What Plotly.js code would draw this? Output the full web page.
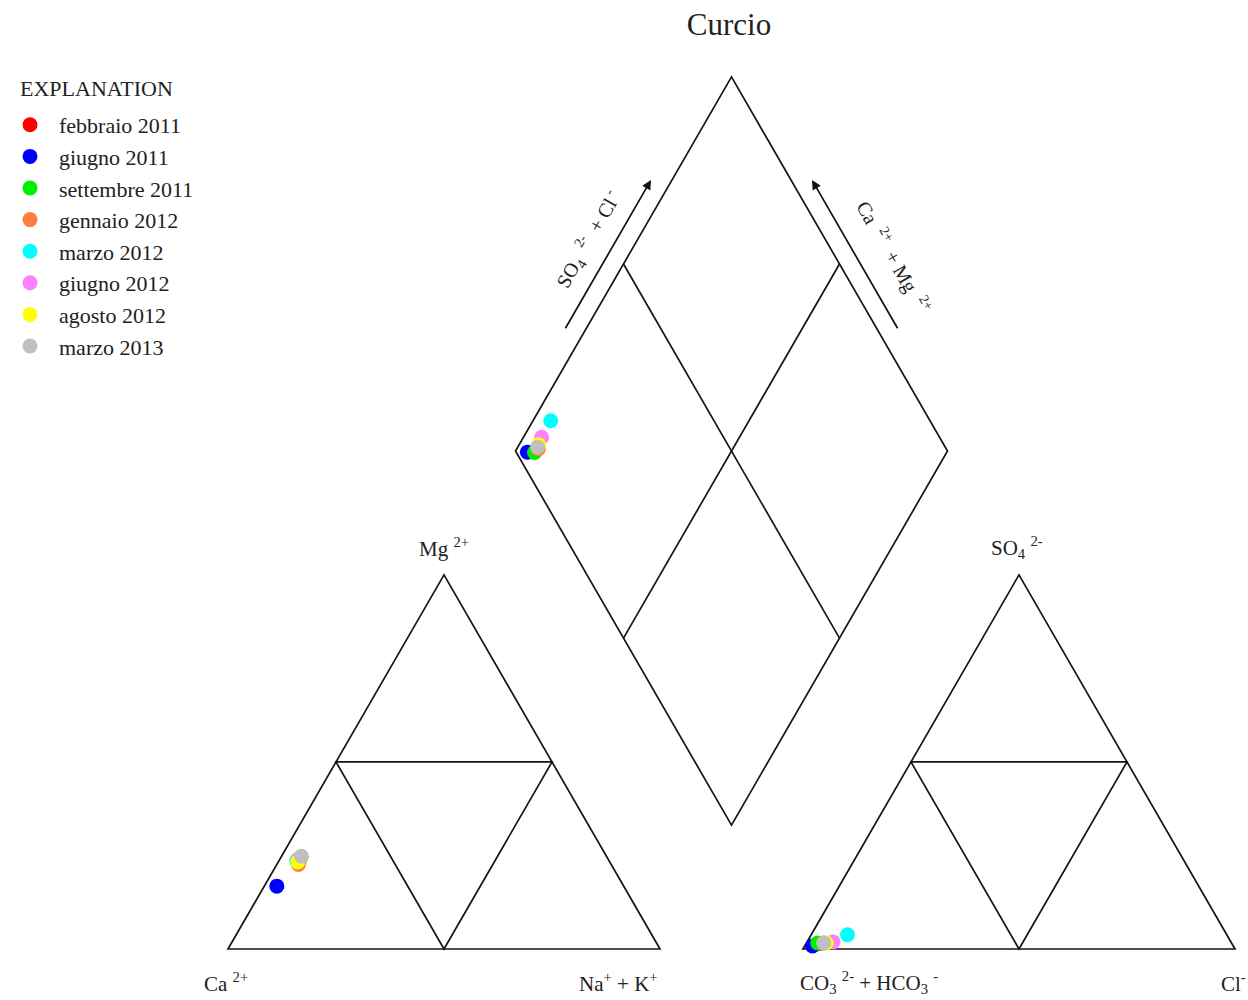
<!DOCTYPE html>
<html>
<head>
<meta charset="utf-8">
<script src="https://cdn.plot.ly/plotly-3.0.1.min.js"></script>
<style>
  html, body { margin: 0; padding: 0; background: #fff; }
  #chart { width: 1248px; height: 1000px; }
</style>
</head>
<body>
<div id="chart"></div>
<script>
// Sampling campaigns at Curcio
const campaigns = ['febbraio 2011', 'giugno 2011', 'settembre 2011', 'gennaio 2012',
                   'marzo 2012', 'giugno 2012', 'agosto 2012', 'marzo 2013'];
const campaignColors = ['#ff0000', '#0000ff', '#00ee00', '#ff7f40',
                        '#00ffff', '#ff80ff', '#ffff00', '#bfbfbf'];

// Cations, % meq/L
const ca  = [71.4, 80.3, 70.9, 72.4, 72.3, 71.8, 72.2, 70.6];
const mg  = [24.0, 16.8, 24.5, 22.6, 23.6, 24.0, 23.3, 24.8];
const naK = [ 4.6,  2.9,  4.6,  5.0,  4.1,  4.2,  4.5,  4.6];

// Anions, % meq/L
const hco3 = [95.5, 97.4, 95.8, 94.4, 87.8, 92.1, 93.8, 94.4];
const so4  = [ 1.5,  0.8,  1.6,  1.6,  3.8,  1.9,  1.6,  1.6];
const cl   = [ 3.0,  1.8,  2.6,  4.0,  8.4,  6.0,  4.6,  4.0];

// ---- Piper geometry (triangle side = 1) ----
const H = Math.sqrt(3) / 2;
const GAP = 0.331;                     // space between the two triangles
const AX0 = 1 + GAP;                   // left corner of the anion triangle
const DB = [1 + GAP / 2, GAP * H];     // bottom corner of the diamond

function cationXY(i) {
  const t = ca[i] + mg[i] + naK[i];
  const m = mg[i] / t, n = naK[i] / t;
  return [n + m / 2, m * H];
}
function anionXY(i) {
  const t = hco3[i] + so4[i] + cl[i];
  const s = so4[i] / t, c = cl[i] / t;
  return [AX0 + c + s / 2, s * H];
}
function diamondXY(i) {
  const p = (ca[i] + mg[i]) / (ca[i] + mg[i] + naK[i]);
  const q = (so4[i] + cl[i]) / (hco3[i] + so4[i] + cl[i]);
  return [DB[0] - p / 2 + q / 2, DB[1] + (p + q) * H];
}

const traces = campaigns.map((name, i) => {
  const pts = [cationXY(i), anionXY(i), diamondXY(i)];
  return {
    type: 'scatter', mode: 'markers', name: name,
    x: pts.map(p => p[0]), y: pts.map(p => p[1]),
    marker: { color: campaignColors[i], size: 15, line: { width: 0 } },
    hoverinfo: 'name'
  };
});

// ---- frame ----
function pathOf(pts, close) {
  return pts.map((p, k) => (k ? 'L' : 'M') + p[0] + ',' + p[1]).join(' ') + (close ? ' Z' : '');
}
const lineStyle = { color: '#151515', width: 1.7 };
function tri(x0) {
  const A = [x0, 0], B = [x0 + 1, 0], C = [x0 + 0.5, H];
  const mAC = [x0 + 0.25, H / 2], mBC = [x0 + 0.75, H / 2], mAB = [x0 + 0.5, 0];
  return [
    { type: 'path', path: pathOf([A, B, C], true), line: lineStyle },
    { type: 'path', path: pathOf([mAC, mBC, mAB], true), line: lineStyle }
  ];
}
const dL = [DB[0] - 0.5, DB[1] + H], dR = [DB[0] + 0.5, DB[1] + H], dT = [DB[0], DB[1] + 2 * H];
const mid = (a, b) => [(a[0] + b[0]) / 2, (a[1] + b[1]) / 2];
const shapes = [
  ...tri(0), ...tri(AX0),
  { type: 'path', path: pathOf([DB, dR, dT, dL], true), line: lineStyle },
  { type: 'path', path: pathOf([mid(DB, dL), mid(dR, dT)], false), line: lineStyle },
  { type: 'path', path: pathOf([mid(DB, dR), mid(dL, dT)], false), line: lineStyle }
].map(s => Object.assign({ xref: 'x', yref: 'y', layer: 'below' }, s));

// ---- axis arrows beside the diamond ----
const OFF = 0.042;
function along(start, dir, norm, t, off) {
  return [start[0] + dir[0] * t + norm[0] * off, start[1] + dir[1] * t + norm[1] * off];
}
const uL = [0.5, H], nL = [-H, 0.5];      // upper-left edge direction / outward normal
const uR = [-0.5, H], nR = [H, 0.5];      // upper-right edge direction / outward normal
const arrowL0 = along(dL, uL, nL, 0.30, OFF), arrowL1 = along(dL, uL, nL, 0.70, OFF);
const arrowR0 = along(dR, uR, nR, 0.30, OFF), arrowR1 = along(dR, uR, nR, 0.70, OFF);
const labelL = along(dL, uL, nL, 0.51, 0.097);
const labelR = along(dR, uR, nR, 0.45, 0.118);

const serif = 'Liberation Serif, Times New Roman, serif';
const ink = '#222222';
function arrow(a0, a1) {
  return {
    xref: 'x', yref: 'y', axref: 'x', ayref: 'y',
    x: a1[0], y: a1[1], ax: a0[0], ay: a0[1],
    text: '', showarrow: true, arrowhead: 2, arrowsize: 1.1, arrowwidth: 1.7, arrowcolor: '#111'
  };
}
function paperText(text, px, py, size, anchor) {
  return {
    xref: 'paper', yref: 'paper', x: px / 1248, y: 1 - py / 1000,
    xanchor: anchor || 'center', yanchor: 'middle', showarrow: false, text: text,
    font: { family: serif, size: size || 21, color: ink }
  };
}

const annotations = [
  arrow(arrowL0, arrowL1),
  arrow(arrowR0, arrowR1),
  { xref: 'x', yref: 'y', x: labelL[0], y: labelL[1], textangle: -60, showarrow: false,
    text: 'SO<sub>4</sub>  <sup>2-</sup>  + Cl<sup> -</sup>', font: { family: serif, size: 20, color: ink } },
  { xref: 'x', yref: 'y', x: labelR[0], y: labelR[1], textangle: 60, showarrow: false,
    text: 'Ca  <sup>2+</sup>  + Mg  <sup>2+</sup>', font: { family: serif, size: 20, color: ink } },
  paperText('Mg <sup>2+</sup>', 444, 547),
  paperText('SO<sub>4</sub> <sup>2-</sup>', 1017, 547),
  paperText('Ca <sup>2+</sup>', 226, 982),
  paperText('Na<sup>+</sup> + K<sup>+</sup>', 618, 982),
  paperText('CO<sub>3</sub> <sup>2-</sup> + HCO<sub>3</sub> <sup>-</sup>', 869, 982),
  paperText('Cl<sup>-</sup>', 1233, 982),
  paperText('EXPLANATION', 18, 89, 22, 'left')
];

const PX = 432;                          // pixels per unit side
const layout = {
  width: 1248, height: 1000,
  margin: { l: 0, r: 0, t: 0, b: 0 },
  paper_bgcolor: '#ffffff', plot_bgcolor: '#ffffff',
  title: { text: 'Curcio', x: 729 / 1248, xanchor: 'center', y: 1 - 24 / 1000, yanchor: 'middle',
           font: { family: serif, size: 31, color: ink } },
  xaxis: { range: [-228 / PX, (1248 - 228) / PX], visible: false, fixedrange: true },
  yaxis: { range: [-(1000 - 949) / PX, 949 / PX], visible: false, fixedrange: true },
  showlegend: true,
  legend: {
    x: 1 / 1248, y: 1 - 104 / 1000, xanchor: 'left', yanchor: 'top',
    font: { family: serif, size: 22, color: ink },
    itemwidth: 48,
    bgcolor: 'rgba(0,0,0,0)', borderwidth: 0, tracegroupgap: 0
  },
  shapes: shapes,
  annotations: annotations
};

Plotly.newPlot('chart', traces, layout, { displayModeBar: false, staticPlot: true });
</script>
</body>
</html>
